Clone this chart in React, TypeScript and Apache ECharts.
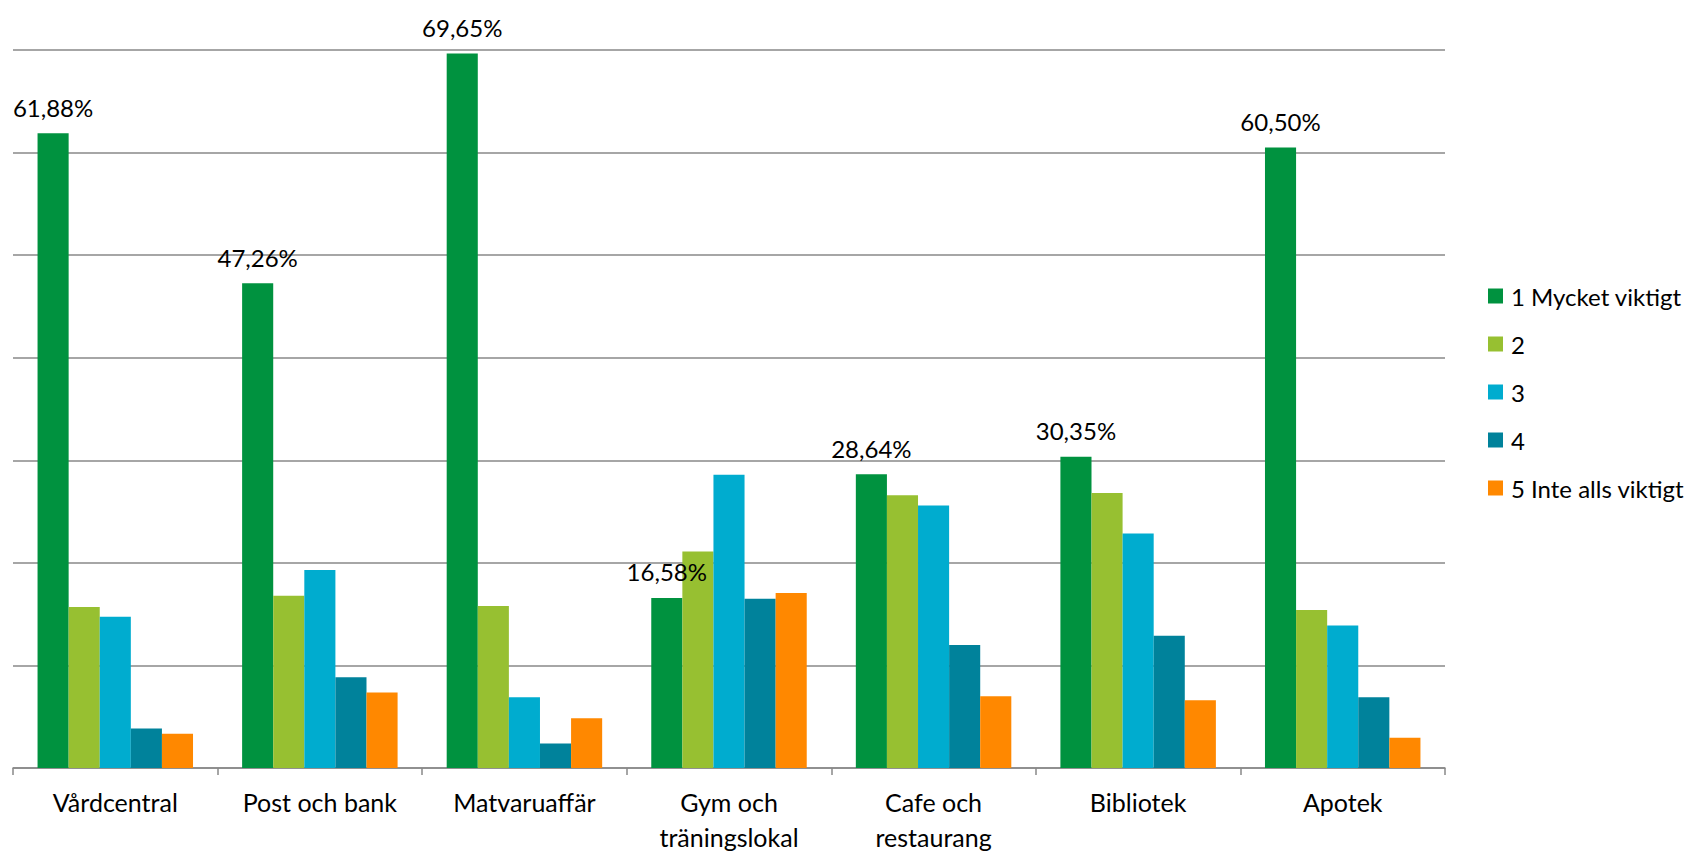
import React, { useEffect, useRef } from "react";
import * as echarts from "echarts";

const categories = [
  "Vårdcentral",
  "Post och bank",
  "Matvaruaffär",
  "Gym och\nträningslokal",
  "Cafe och\nrestaurang",
  "Bibliotek",
  "Apotek",
];

const seriesNames = ["1 Mycket viktigt", "2", "3", "4", "5 Inte alls viktigt"];

const s1 = [61.88, 47.26, 69.65, 16.58, 28.64, 30.35, 60.5];
const s2 = [15.7, 16.8, 15.8, 21.1, 26.6, 26.8, 15.4];
const s3 = [14.75, 19.3, 6.9, 28.6, 25.6, 22.85, 13.9];
const s4 = [3.85, 8.85, 2.4, 16.5, 12.0, 12.9, 6.9];
const s5 = [3.35, 7.35, 4.85, 17.05, 7.0, 6.6, 2.95];

const colors = ["#00923F", "#97C031", "#00ACCF", "#00829B", "#FF8800"];

const FONT = "Lato, 'Open Sans', sans-serif";

export default function App() {
  const ref = useRef<HTMLDivElement>(null);

  useEffect(() => {
    if (!ref.current) return;
    const chart = echarts.init(ref.current, undefined, { renderer: "svg" });
    const data = [s1, s2, s3, s4, s5];
    chart.setOption({
      animation: false,
      backgroundColor: "#ffffff",
      textStyle: { fontFamily: FONT },
      grid: {
        left: 13,
        right: 245,
        top: 50,
        bottom: 83,
        containLabel: false,
        outerBoundsMode: "none",
      },
      legend: {
        orient: "vertical",
        left: 1488,
        top: 284,
        padding: 0,
        itemWidth: 15,
        itemHeight: 15,
        itemGap: 24,
        icon: "rect",
        data: seriesNames,
        textStyle: { fontFamily: FONT, fontSize: 24, color: "#000", lineHeight: 24, padding: [0, 0, 0, 3] },
      },
      xAxis: {
        type: "category",
        data: categories,
        boundaryGap: true,
        axisLine: { show: true, lineStyle: { color: "#888888", width: 1.5 } },
        axisTick: { show: true, length: 7, lineStyle: { color: "#888888", width: 1.5 } },
        axisLabel: {
          fontFamily: FONT,
          fontSize: 25,
          color: "#000",
          margin: 16,
          lineHeight: 35,
          interval: 0,
        },
      },
      yAxis: {
        type: "value",
        min: 0,
        max: 70,
        interval: 10,
        axisLine: { show: false },
        axisTick: { show: false },
        axisLabel: { show: false },
        splitLine: { show: true, lineStyle: { color: "#888888", width: 1.5 } },
      },
      series: data.map((d, i) => ({
        name: seriesNames[i],
        type: "bar",
        data: d,
        barGap: "0%",
        barCategoryGap: "24%",
        itemStyle: { color: colors[i] },
        label:
          i === 0
            ? {
                show: true,
                position: "top",
                distance: 14,
                fontFamily: FONT,
                fontSize: 24,
                color: "#000",
                formatter: (p: any) => p.value.toFixed(2).replace(".", ",") + "%",
              }
            : { show: false },
      })),
    });
    return () => chart.dispose();
  }, []);

  return (
    <div
      ref={ref}
      style={{ position: "fixed", left: 0, top: 0, width: 1690, height: 851, background: "#fff" }}
    />
  );
}
